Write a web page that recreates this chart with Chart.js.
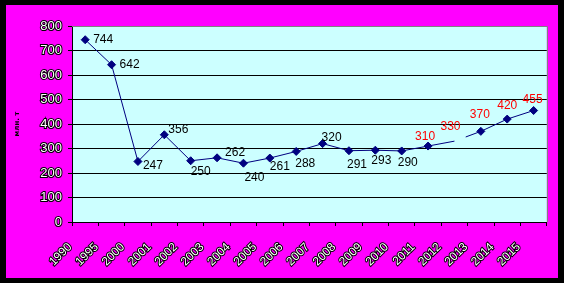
<!DOCTYPE html>
<html>
<head>
<meta charset="utf-8">
<script src="https://cdn.jsdelivr.net/npm/chart.js"></script>
<style>
  html, body { margin: 0; padding: 0; background: #000; }
  #wrap { position: absolute; left: 6px; top: 5px; width: 552px; height: 273px; background: #ff00ff; }
</style>
</head>
<body>
<div id="wrap"><canvas id="myChart"></canvas></div>
<script>
var years = ["1990", "1995", "2000", "2001", "2002", "2003", "2004", "2005", "2006",
  "2007", "2008", "2009", "2010", "2011", "2012", "2013", "2014", "2015"];
var values = [744, 642, 247, 356, 250, 262, 240, 261, 288, 320, 291, 293, 290, 310, 330, 370, 420, 455];
var yTicks = [0, 100, 200, 300, 400, 500, 600, 700, 800];

// where each value label sits relative to its point (text left, text middle)
var labelOffsets = [[8, 0], [8, 0], [5, 4], [4, -5], [0, 11], [8, -5], [1, 14], [0, 9], [-1, 12],
  [-1, -6], [-2, 14], [-4, 10], [-4, 12], [-13, -9], [-14, -14], [-11, -17], [-10, -13], [-11, -11]];
var firstRed = 13;

var plotBox = {
  id: "plotBox",
  beforeDraw: function (chart) {
    var a = chart.chartArea, ctx = chart.ctx;
    ctx.save();
    ctx.fillStyle = "#ccffff";
    ctx.fillRect(a.left, a.top, a.right - a.left, a.bottom - a.top);
    ctx.restore();
  },
  afterDatasetsDraw: function (chart) {
    var a = chart.chartArea, ctx = chart.ctx;
    ctx.save();
    ctx.strokeStyle = "#808080";
    ctx.lineWidth = 1;
    ctx.beginPath();
    ctx.moveTo(a.left, Math.round(a.top) + 0.5);
    ctx.lineTo(Math.round(a.right) + 0.5, Math.round(a.top) + 0.5);
    ctx.lineTo(Math.round(a.right) + 0.5, a.bottom);
    ctx.stroke();

    var meta = chart.getDatasetMeta(0);
    ctx.font = "12px 'Liberation Sans', Arial, sans-serif";
    ctx.textAlign = "left";
    ctx.textBaseline = "middle";
    meta.data.forEach(function (pt, i) {
      var off = labelOffsets[i];
      ctx.fillStyle = i >= firstRed ? "#ff0000" : "#000000";
      ctx.fillText(String(values[i]), pt.x + off[0], pt.y + off[1]);
    });
    ctx.restore();
  }
};

new Chart("myChart", {
  type: "line",
  data: {
    labels: years,
    datasets: [{
      data: values,
      borderColor: "#000080",
      borderWidth: 1,
      backgroundColor: "#000080",
      pointBackgroundColor: "#000080",
      pointBorderColor: "#000080",
      pointStyle: "rectRot",
      pointRadius: function (c) { return c.dataIndex === 14 ? 0 : 4; },
      tension: 0,
      segment: {
        borderDash: function (c) { return c.p0DataIndex === 14 ? [0, 12, 40, 0] : undefined; }
      }
    }]
  },
  options: {
    responsive: true,
    maintainAspectRatio: false,
    animation: false,
    layout: { padding: { left: 0, right: 8, top: 21, bottom: 0 } },
    plugins: { legend: { display: false }, tooltip: { enabled: false } },
    scales: {
      x: {
        offset: true,
        afterFit: function (s) { s.height = 56; },
        grid: { offset: true, drawOnChartArea: false, color: "#000", tickLength: 4, tickColor: "#000" },
        border: { color: "#000", width: 1 },
        ticks: {
          autoSkip: false,
          minRotation: 45,
          maxRotation: 45,
          labelOffset: -15,
          color: "#ffffff",
          textStrokeColor: "#000",
          textStrokeWidth: 2,
          padding: 14,
          font: { family: "'Liberation Sans', Arial, sans-serif", size: 12 }
        }
      },
      y: {
        min: 0,
        max: 800,
        afterFit: function (s) { s.width = 66; },
        afterBuildTicks: function (s) { s.ticks = yTicks.map(function (v) { return { value: v }; }); },
        grid: {
          color: function (c) { return c.tick && c.tick.value === 800 ? "#808080" : "#000"; },
          tickLength: 4,
          tickColor: "#000"
        },
        border: { color: "#000", width: 1 },
        title: {
          display: true,
          text: "млн. т",
          color: "#000",
          padding: { top: 7, bottom: 0 },
          font: { family: "'DejaVu Sans', sans-serif", size: 7, weight: "bold" }
        },
        ticks: {
          color: "#ffffff",
          textStrokeColor: "#000",
          textStrokeWidth: 2,
          padding: 6,
          font: { family: "'Liberation Sans', Arial, sans-serif", size: 13 }
        }
      }
    }
  },
  plugins: [plotBox]
});
</script>
</body>
</html>
